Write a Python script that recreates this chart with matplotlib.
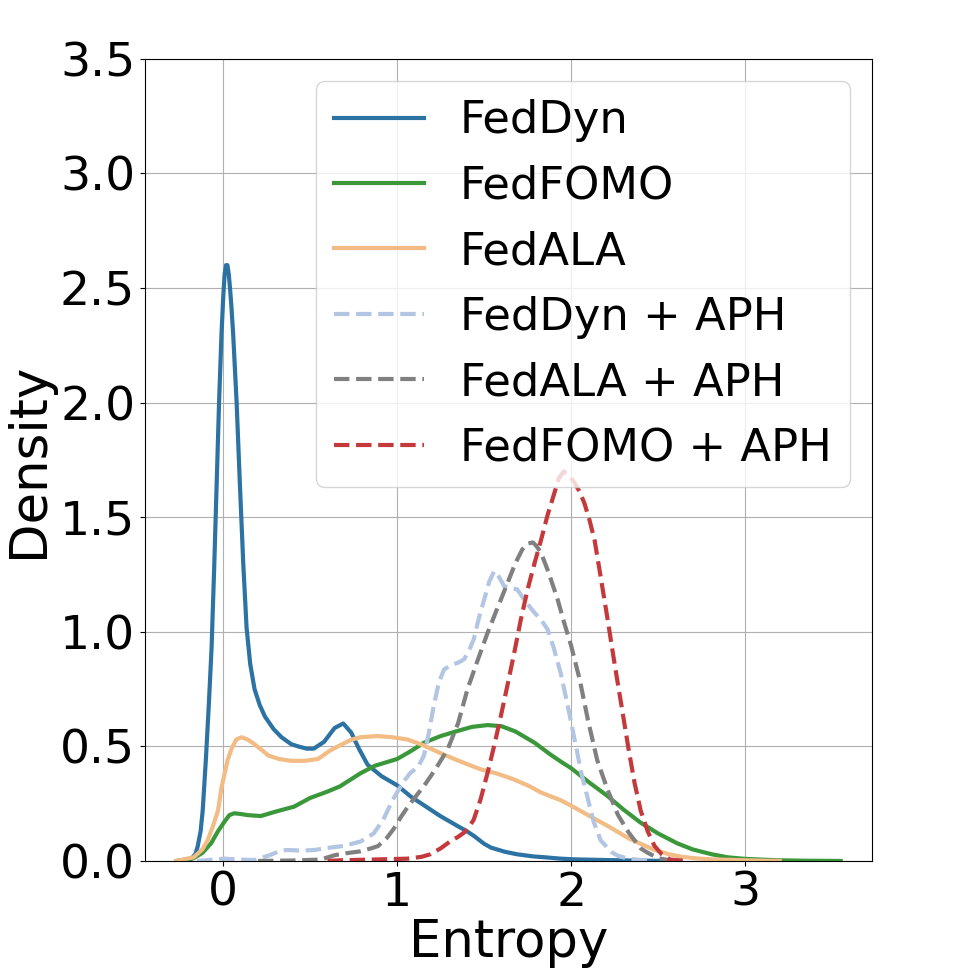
"""Entropy density curves: base FL methods vs. the same methods with APH."""

import matplotlib
matplotlib.use("Agg")
import matplotlib.pyplot as plt

# ---- curve samples (entropy, density) ----
feddyn_x = [-0.25, -0.19, -0.16, -0.147, -0.13, -0.118, -0.10, -0.083, -0.067, -0.052,
            -0.038, -0.024, -0.01, 0.0, 0.008, 0.016, 0.024, 0.032, 0.04, 0.047,
            0.057, 0.077, 0.096, 0.115,
            0.134, 0.155, 0.18, 0.21, 0.24, 0.29, 0.335, 0.39, 0.43, 0.48,
            0.52, 0.58, 0.64, 0.69, 0.736, 0.78, 0.83, 0.91, 1.0, 1.08,
            1.16, 1.25, 1.346, 1.40, 1.44, 1.50, 1.54, 1.62, 1.69, 1.78,
            1.865, 1.94, 2.02, 2.20, 2.35, 2.55]
feddyn_y = [0.0, 0.004, 0.03, 0.063, 0.13, 0.22, 0.44, 0.68, 0.93, 1.28,
            1.64, 2.0, 2.30, 2.46, 2.56, 2.60, 2.60, 2.56, 2.49, 2.42,
            2.30, 2.0, 1.64, 1.30,
            1.02, 0.86, 0.75, 0.68, 0.63, 0.575, 0.54, 0.51, 0.50, 0.49,
            0.49, 0.52, 0.58, 0.60, 0.56, 0.49, 0.42, 0.37, 0.33, 0.28,
            0.24, 0.195, 0.153, 0.13, 0.11, 0.075, 0.058, 0.04, 0.029, 0.02,
            0.015, 0.01, 0.007, 0.004, 0.002, 0.0]

fedfomo_x = [-0.27, -0.17, -0.12, -0.07, -0.03, 0.006, 0.035, 0.063, 0.10, 0.14,
             0.216, 0.30, 0.407, 0.50, 0.60, 0.67, 0.79, 0.87, 1.0, 1.08,
             1.154, 1.25, 1.346, 1.43, 1.52, 1.60, 1.68, 1.79, 1.88, 1.94,
             2.0, 2.10, 2.21, 2.30, 2.40, 2.50, 2.61, 2.70, 2.81, 2.90,
             3.0, 3.19, 3.35, 3.55]
fedfomo_y = [0.0, 0.012, 0.035, 0.077, 0.13, 0.17, 0.20, 0.208, 0.205, 0.20,
             0.196, 0.215, 0.237, 0.275, 0.303, 0.325, 0.383, 0.415, 0.445, 0.48,
             0.516, 0.545, 0.567, 0.585, 0.593, 0.588, 0.565, 0.516, 0.465, 0.434,
             0.405, 0.345, 0.283, 0.225, 0.167, 0.12, 0.077, 0.05, 0.029, 0.016,
             0.009, 0.003, 0.001, 0.0]

fedala_x = [-0.27, -0.17, -0.12, -0.09, -0.06, -0.03, -0.01, 0.025, 0.048, 0.075,
            0.105, 0.14, 0.17, 0.22, 0.26, 0.32, 0.39, 0.47, 0.545, 0.61,
            0.68, 0.74, 0.79, 0.885, 0.97, 1.06, 1.15, 1.25, 1.36, 1.48,
            1.58, 1.67, 1.75, 1.83, 1.94, 2.02, 2.13, 2.21, 2.33, 2.40,
            2.48, 2.56, 2.63, 2.72, 2.81, 3.0, 3.2]
fedala_y = [0.0, 0.016, 0.05, 0.09, 0.15, 0.22, 0.32, 0.44, 0.49, 0.53,
            0.54, 0.53, 0.515, 0.485, 0.46, 0.445, 0.437, 0.437, 0.445, 0.48,
            0.508, 0.53, 0.54, 0.545, 0.54, 0.53, 0.505, 0.47, 0.435, 0.40,
            0.38, 0.356, 0.33, 0.298, 0.265, 0.233, 0.186, 0.153, 0.099, 0.075,
            0.048, 0.03, 0.019, 0.011, 0.007, 0.003, 0.0]

feddyn_aph_x = [-0.15, 0.006, 0.10, 0.18, 0.27, 0.33, 0.37, 0.45, 0.526, 0.60,
                0.69, 0.79, 0.865, 0.92, 0.97, 1.0, 1.04, 1.077, 1.12, 1.154,
                1.18, 1.21, 1.24, 1.27, 1.31, 1.35, 1.385, 1.42, 1.44, 1.47,
                1.50, 1.53, 1.558, 1.585, 1.615, 1.65, 1.69, 1.74, 1.79, 1.83,
                1.865, 1.90, 1.94, 1.98, 2.02, 2.06, 2.10, 2.13, 2.17, 2.23,
                2.27, 2.33, 2.40, 2.47]
feddyn_aph_y = [0.0, 0.01, 0.006, 0.004, 0.026, 0.045, 0.048, 0.045, 0.048, 0.057,
                0.065, 0.085, 0.12, 0.18, 0.26, 0.30, 0.35, 0.385, 0.41, 0.46,
                0.55, 0.676, 0.78, 0.836, 0.855, 0.865, 0.88, 0.93, 0.967, 1.06,
                1.14, 1.22, 1.265, 1.24, 1.20, 1.19, 1.185, 1.13, 1.083, 1.05,
                1.01, 0.93, 0.82, 0.68, 0.53, 0.38, 0.26, 0.17, 0.09, 0.04,
                0.022, 0.01, 0.004, 0.0]

fedala_aph_x = [0.2, 0.40, 0.56, 0.64, 0.70, 0.79, 0.85, 0.89, 0.94, 0.98,
                1.02, 1.06, 1.10, 1.154, 1.22, 1.29, 1.35, 1.404, 1.46, 1.52,
                1.58, 1.635, 1.68, 1.72, 1.75, 1.78, 1.80, 1.827, 1.87, 1.923,
                1.96, 2.0, 2.05, 2.096, 2.15, 2.21, 2.27, 2.33, 2.40, 2.44,
                2.50, 2.56, 2.64]
fedala_aph_y = [0.0, 0.002, 0.006, 0.025, 0.033, 0.042, 0.055, 0.065, 0.10, 0.14,
                0.19, 0.235, 0.275, 0.327, 0.40, 0.487, 0.60, 0.749, 0.87, 0.996,
                1.11, 1.214, 1.30, 1.36, 1.385, 1.39, 1.375, 1.345, 1.26, 1.14,
                1.04, 0.94, 0.79, 0.618, 0.44, 0.31, 0.20, 0.125, 0.055, 0.036,
                0.012, 0.004, 0.0]

fedfomo_aph_x = [0.6, 0.675, 0.85, 1.058, 1.14, 1.19, 1.25, 1.308, 1.35, 1.385,
                 1.41, 1.44, 1.48, 1.52, 1.56, 1.596, 1.635, 1.673, 1.71, 1.75,
                 1.79, 1.827, 1.865, 1.904, 1.93, 1.958, 1.99, 2.02, 2.05, 2.077,
                 2.105, 2.135, 2.17, 2.21, 2.25, 2.29, 2.33, 2.365, 2.40, 2.44,
                 2.48, 2.52, 2.57, 2.67]
fedfomo_aph_y = [0.0, 0.003, 0.006, 0.01, 0.018, 0.029, 0.055, 0.087, 0.105, 0.124,
                 0.145, 0.18, 0.27, 0.385, 0.51, 0.632, 0.77, 0.908, 1.05, 1.185,
                 1.30, 1.40, 1.51, 1.606, 1.67, 1.70, 1.68, 1.65, 1.61, 1.56,
                 1.49, 1.40, 1.24, 1.054, 0.86, 0.676, 0.49, 0.34, 0.22, 0.13,
                 0.065, 0.03, 0.006, 0.0]

series = [
    ("FedDyn", feddyn_x, feddyn_y, "#2c73a3", "-"),
    ("FedFOMO", fedfomo_x, fedfomo_y, "#3a983a", "-"),
    ("FedALA", fedala_x, fedala_y, "#f2bc84", "-"),
    ("FedDyn + APH", feddyn_aph_x, feddyn_aph_y, "#b2c6e3", "--"),
    ("FedALA + APH", fedala_aph_x, fedala_aph_y, "#808080", "--"),
    ("FedFOMO + APH", fedfomo_aph_x, fedfomo_aph_y, "#c43a3c", "--"),
]

fig = plt.figure(figsize=(9.69, 9.69), dpi=100)
ax = fig.add_axes([0.1496, 0.1115, 0.7503, 0.8277])

for name, xs, ys, col, ls in series:
    ax.plot(xs, ys, color=col, linestyle=ls, linewidth=3, label=name)

ax.set_xlim(-0.45, 3.73)
ax.set_ylim(0, 3.5)
ax.set_xticks([0, 1, 2, 3])
ax.set_yticks([0.0, 0.5, 1.0, 1.5, 2.0, 2.5, 3.0, 3.5])
ax.tick_params(labelsize=34)
ax.grid(True)
ax.set_xlabel("Entropy", fontsize=37, labelpad=2)
ax.set_ylabel("Density", fontsize=37)
ax.legend(loc="upper right", fontsize=32.3)

fig.savefig("out.png", dpi=100)
plt.close(fig)
